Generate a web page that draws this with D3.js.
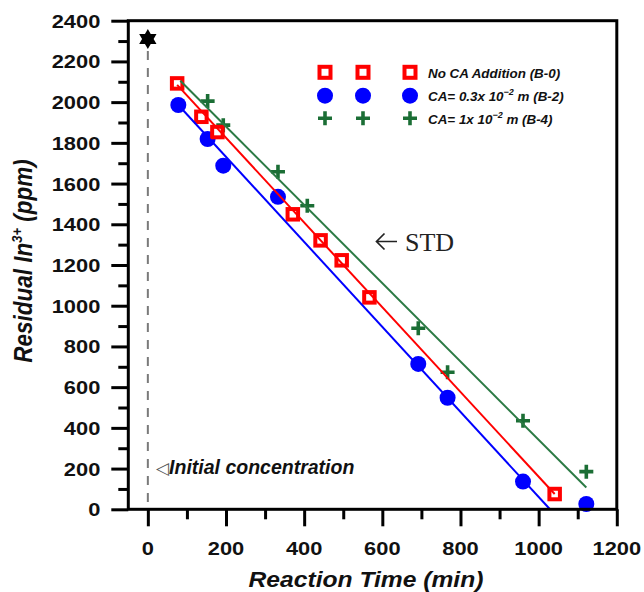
<!DOCTYPE html>
<html><head><meta charset="utf-8">
<script src="https://cdn.jsdelivr.net/npm/d3@7"></script>
<style>body{margin:0;background:#fff} svg{display:block}</style>
</head><body><svg id="c" width="644" height="592"></svg>
<script>
// ---- data ----
const seriesB0 = [[75,2092],[137,1928],[178,1853],[371,1449],[442,1321],[496,1223],[567,1041],[1041,75]];
const seriesB2 = [[78,1986],[153,1819],[193,1688],[333,1535],[692,714],[767,548],[960,136],[1122,26]];
const seriesB4 = [[153,2005],[193,1887],[333,1658],[408,1491],[692,889],[767,673],[960,435],[1122,185]];
const fitB0 = [[75,2085],[1041,75]];
const fitB2 = [[78,1986],[1029,0]];
const fitB4 = [[83,2105],[1122,107]];
const initialPoint = [0,2310];
const xTickLabels = [0,200,400,600,800,1000,1200];
const yTickLabels = [0,200,400,600,800,1000,1200,1400,1600,1800,2000,2200,2400];
const legendLabels = [
  ["No CA Addition (B-0)"],
  ["CA= 0.3x 10", "\u22122", " m (B-2)"],
  ["CA= 1x 10", "\u22122", " m (B-4)"]
];

const RED = "#ff0000", BLUE = "#0000ff", GREEN = "#1b6e35", GREENLINE = "#2b7a44";
const svg = d3.select("#c");
const L = 128.3, R = 616.8, T = 20.7, B = 509.3;
const x = d3.scaleLinear().domain([-50,1200]).range([L,R]);
const y = d3.scaleLinear().domain([0,2400]).range([B,T]);
const SANS = "'Liberation Sans', Arial, sans-serif";

// dashed line at t=0
svg.append("line").attr("x1",x(0)).attr("x2",x(0)).attr("y1",y(initialPoint[1])+12).attr("y2",B)
  .attr("stroke","#7a7a7a").attr("stroke-width",2).attr("stroke-dasharray","9,8");

// star
function hexagram(cx, cy, r){
  const ri = r/Math.sqrt(3);
  const pts = [];
  for(let k=0;k<12;k++){
    const a = -Math.PI/2 + k*Math.PI/6;
    const rr = k%2===0 ? r : ri;
    pts.push([cx+rr*Math.cos(a), cy+rr*Math.sin(a)]);
  }
  return "M"+pts.map(p=>p.join(",")).join("L")+"Z";
}
svg.append("path").attr("d",hexagram(x(initialPoint[0]), y(initialPoint[1]), 10)).attr("fill","#000");

// markers
function square(g, cx, cy, s){ g.append("rect").attr("x",cx-s/2).attr("y",cy-s/2).attr("width",s).attr("height",s)
  .attr("fill","#fff").attr("stroke",RED).attr("stroke-width",4); }
function circle(g, cx, cy){ g.append("circle").attr("cx",cx).attr("cy",cy).attr("r",8).attr("fill",BLUE); }
function cross(g, cx, cy){ g.append("path").attr("d",`M${cx-7},${cy}H${cx+7}M${cx},${cy-7}V${cy+7}`)
  .attr("stroke",GREEN).attr("stroke-width",3.6).attr("fill","none"); }

const gm = svg.append("g");
seriesB4.forEach(d=>cross(gm, x(d[0]), y(d[1])));
seriesB2.forEach(d=>circle(gm, x(d[0]), y(d[1])));
seriesB0.forEach(d=>square(gm, x(d[0]), y(d[1]), 10.5));

const line = d3.line().x(d=>x(d[0])).y(d=>y(d[1]));
[[fitB4,GREENLINE],[fitB2,BLUE],[fitB0,RED]].forEach(([f,c])=>{
  svg.append("path").attr("d",line(f)).attr("stroke",c).attr("stroke-width",2).attr("fill","none");
});

// frame
svg.append("rect").attr("x",L).attr("y",T).attr("width",R-L).attr("height",B-T)
  .attr("fill","none").attr("stroke","#000").attr("stroke-width",3);

// axes
const xMinor = d3.range(100,1200,200);
const yMinor = d3.range(100,2400,200);
const ax = svg.append("g").attr("transform",`translate(0,${B})`);
ax.call(d3.axisBottom(x).tickValues(xTickLabels).tickSize(17).tickSizeOuter(0).tickFormat(""));
ax.append("g").call(d3.axisBottom(x).tickValues(xMinor).tickSize(10).tickSizeOuter(0).tickFormat(""));
ax.selectAll(".domain").remove();
ax.selectAll("line").attr("stroke","#000").attr("stroke-width",3);
xTickLabels.forEach(v=>{
  ax.append("text").attr("transform",`translate(${x(v)},46) scale(1.15,1)`).attr("text-anchor","middle")
    .attr("font-family",SANS).attr("font-weight","bold").attr("font-size",19).attr("fill","#111").text(v);
});

const ay = svg.append("g").attr("transform",`translate(${L},0)`);
ay.call(d3.axisLeft(y).tickValues(yTickLabels).tickSize(17).tickSizeOuter(0).tickFormat(""));
ay.append("g").call(d3.axisLeft(y).tickValues(yMinor).tickSize(10).tickSizeOuter(0).tickFormat(""));
ay.selectAll(".domain").remove();
ay.selectAll("line").attr("stroke","#000").attr("stroke-width",3);
yTickLabels.forEach(v=>{
  ay.append("text").attr("transform",`translate(-28,${y(v)+7}) scale(1.15,1)`).attr("text-anchor","end")
    .attr("font-family",SANS).attr("font-weight","bold").attr("font-size",19).attr("fill","#111").text(v);
});

// axis titles
svg.append("text").attr("transform",`translate(366,587) scale(1.12,1)`).attr("text-anchor","middle")
  .attr("font-family",SANS).attr("font-weight","bold").attr("font-style","italic").attr("font-size",22)
  .attr("fill","#111").text("Reaction Time (min)");
const yt = svg.append("text").attr("transform",`translate(32,261) rotate(-90) scale(1,1.12)`).attr("text-anchor","middle")
  .attr("font-family",SANS).attr("font-weight","bold").attr("font-style","italic").attr("font-size",22.5).attr("fill","#111");
yt.append("tspan").text("Residual In");
yt.append("tspan").attr("font-size",13).attr("dy",-9).text("3+");
yt.append("tspan").attr("dy",9).text(" (ppm)");

// legend
const legCols = [325, 363, 410], legRows = [72.3, 95.7, 118.3];
legRows.forEach((ry,i)=>{
  legCols.forEach(cx=>{
    if(i===0) square(svg, cx, ry, 11);
    else if(i===1) circle(svg, cx, ry);
    else cross(svg, cx, ry);
  });
  const t = svg.append("text").attr("x",428).attr("y",ry+5.2).attr("font-family",SANS).attr("font-weight","bold")
    .attr("font-style","italic").attr("font-size",13.4).attr("fill","#111");
  const parts = legendLabels[i];
  t.append("tspan").text(parts[0]);
  if(parts.length>1){
    t.append("tspan").attr("font-size",9).attr("dy",-6).text(parts[1]);
    t.append("tspan").attr("dy",6).text(parts[2]);
  }
});

// annotations
svg.append("path").attr("d","M397,241.5H376.5M384.5,233.5L376.5,241.5L384.5,249.5")
  .attr("stroke","#222").attr("stroke-width",1.7).attr("fill","none");
svg.append("text").attr("x",405).attr("y",251).attr("font-family","'Liberation Serif', 'Times New Roman', serif")
  .attr("font-size",26).attr("fill","#222").text("STD");
const it = svg.append("text").attr("x",156).attr("y",474).attr("font-family",SANS).attr("font-size",19.5).attr("fill","#111");
it.append("tspan").attr("font-family","'DejaVu Sans', sans-serif").attr("font-size",17).attr("fill","#555").text("\u25C1");
it.append("tspan").attr("font-weight","bold").attr("font-style","italic").text("Initial concentration");
</script></body></html>
